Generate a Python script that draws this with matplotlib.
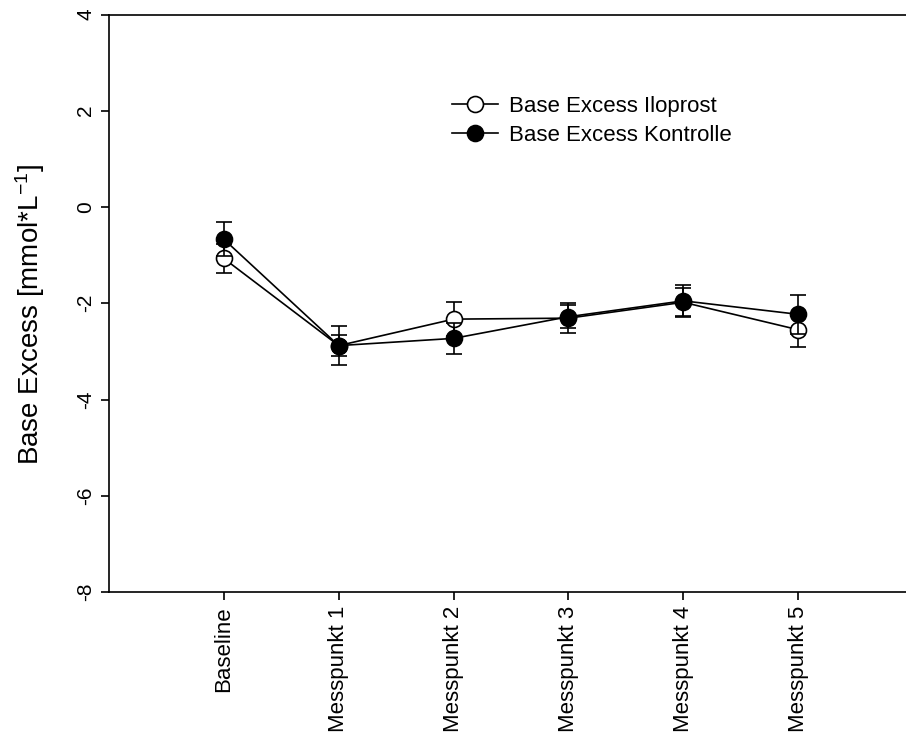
import matplotlib
matplotlib.use('Agg')
import matplotlib.pyplot as plt
import numpy as np

plt.rcParams['font.family'] = ['Liberation Sans', 'DejaVu Sans']
plt.rcParams['mathtext.default'] = 'regular'

labels = ['Baseline', 'Messpunkt 1', 'Messpunkt 2', 'Messpunkt 3', 'Messpunkt 4', 'Messpunkt 5']
iloprost = [-1.07, -2.88, -2.33, -2.31, -1.98, -2.55]
iloprost_err = [0.30, 0.41, 0.35, 0.31, 0.30, 0.35]
kontrolle = [-0.67, -2.88, -2.73, -2.28, -1.95, -2.23]
kontrolle_err = [0.35, 0.22, 0.33, 0.24, 0.32, 0.41]

x = np.arange(len(labels))

fig = plt.figure(figsize=(9.06, 7.42), dpi=100)
ax = fig.add_axes([109 / 906, 1 - 592 / 742, 804 / 906, (592 - 14.5) / 742])

lw = 1.2
ax.errorbar(x, iloprost, yerr=iloprost_err, color='black', linewidth=lw,
            elinewidth=lw, capsize=6, capthick=lw, marker='o', markersize=11.5,
            markerfacecolor='white', markeredgecolor='black', markeredgewidth=lw,
            label='Base Excess Iloprost', zorder=3)
ax.errorbar(x, kontrolle, yerr=kontrolle_err, color='black', linewidth=lw,
            elinewidth=lw, capsize=6, capthick=lw, marker='o', markersize=11.5,
            markerfacecolor='black', markeredgecolor='black', markeredgewidth=lw,
            label='Base Excess Kontrolle', zorder=4)

ax.set_xlim(-1, 6)
ax.set_ylim(-8, 4)
ax.set_yticks(np.arange(-8, 5, 2))
ax.set_yticklabels([str(v) for v in range(-8, 5, 2)], rotation=90, va='center', fontsize=15)
ax.set_xticks(x)
ax.set_xticklabels(labels, rotation=90, fontsize=16)
ax.tick_params(direction='out', length=6, width=lw, pad=4)
ax.spines['right'].set_visible(False)
for s in ['left', 'top', 'bottom']:
    ax.spines[s].set_linewidth(lw)

ax.set_ylabel('Base Excess [mmol*L$^{-1}$]', fontsize=20)
ax.yaxis.set_label_coords(-0.077, 0.48)

handles, lbls = ax.get_legend_handles_labels()
handles = [h[0] for h in handles]
ax.legend(handles, lbls, loc='upper left', bbox_to_anchor=(0.415, 0.874),
          frameon=False, fontsize=16, handlelength=2.1, handletextpad=0.5,
          labelspacing=0.35, borderaxespad=0)

fig.savefig('out.png', dpi=100)
